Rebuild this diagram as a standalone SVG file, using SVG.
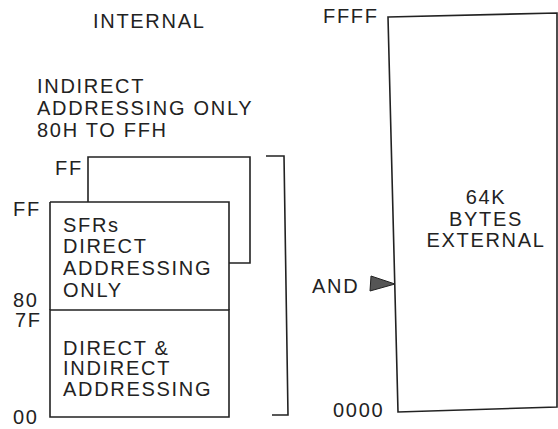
<svg xmlns="http://www.w3.org/2000/svg" width="558" height="429" viewBox="0 0 558 429">
<style>
text{font-family:"Liberation Sans",Arial,sans-serif;font-size:20px;letter-spacing:1.7px;fill:#222}
.ln{fill:none;stroke:#222;stroke-width:1.6}
.mid{text-anchor:middle}
</style>
<rect width="558" height="429" fill="#fff"/>
<g id="title-internal"><text x="93" y="28">INTERNAL</text></g>
<g id="indirect-note">
<text x="37" y="93">INDIRECT</text>
<text x="37" y="115">ADDRESSING ONLY</text>
<text x="37" y="137">80H TO FFH</text>
</g>
<g id="upper-ram">
<path class="ln" d="M88,202 V157 H250 V263 H229"/>
<text x="55" y="175">FF</text>
</g>
<g id="sfr-block">
<path class="ln" d="M50,202 H229 V310 M50,310 V202"/>
<text x="13" y="216">FF</text>
<text x="63" y="232">SFRs</text>
<text x="63" y="253">DIRECT</text>
<text x="63" y="275">ADDRESSING</text>
<text x="63" y="297">ONLY</text>
<text x="13" y="307">80</text>
</g>
<g id="lower-ram">
<path class="ln" d="M50,310 H229 V417 H50 Z"/>
<text x="15" y="327">7F</text>
<text x="63" y="355">DIRECT &amp;</text>
<text x="63" y="375">INDIRECT</text>
<text x="63" y="396">ADDRESSING</text>
<text x="13" y="424">00</text>
</g>
<g id="bracket"><path class="ln" d="M266,156 H284 L288,415 H272"/></g>
<g id="external">
<path class="ln" d="M388,17 L557,13 V407 L398,412 Z"/>
<text x="323" y="23">FFFF</text>
<text x="333" y="417">0000</text>
<text class="mid" x="486" y="204">64K</text>
<text class="mid" x="486" y="226">BYTES</text>
<text class="mid" x="486" y="247">EXTERNAL</text>
</g>
<g id="connectors">
<text x="312" y="293">AND</text>
<polygon points="371,276 370,291 395,284" fill="#555" stroke="#222" stroke-width="1"/>
</g>
</svg>
